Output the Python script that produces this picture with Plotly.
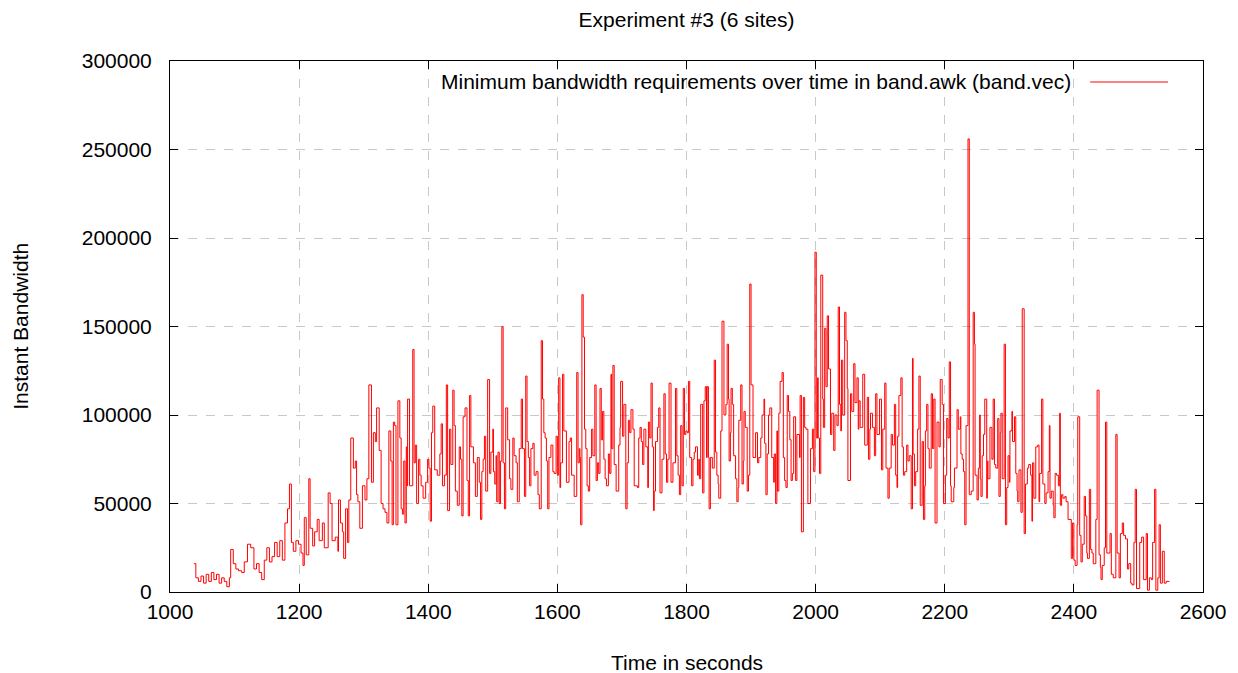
import plotly.graph_objects as go

# Times (s) at which the step value changes
time_s = [
    1037,1040,1044,1048,1052,1056,1060,1064,1068,1072,
    1076,1080,1084,1088,1092,1094,1098,1102,1106,1111,
    1115,1120,1125,1130,1134,1138,1142,1146,1150,1154,
    1158,1162,1166,1170,1174,1178,1182,1185,1188,1191,
    1195,1199,1203,1206,1208,1211,1215,1217,1221,1224,
    1228,1231,1236,1239,1245,1248,1251,1256,1260,1261,
    1264,1267,1269,1272,1275,1277,1280,1284,1287,1289,
    1291,1294,1298,1302,1305,1308,1312,1315,1318,1320,
    1324,1327,1330,1333,1336,1339,1342,1344,1346,1348,
    1350,1353,1356,1358,1360,1362,1364,1366,1367,1368,
    1371,1376,1378,1380,1382,1385,1387,1389,1392,1396,
    1399,1401,1403,1405,1407,1410,1414,1418,1420,1422,
    1425,1428,1430,1433,1435,1438,1440,1442,1445,1448,
    1450,1452,1454,1457,1460,1462,1464,1466,1470,1473,
    1476,1479,1481,1483,1485,1487,1489,1492,1495,1497,
    1500,1501,1503,1505,1506,1508,1510,1512,1514,1516,
    1518,1520,1523,1526,1528,1531,1533,1536,1538,1541,
    1544,1546,1549,1551,1553,1555,1557,1559,1562,1564,
    1567,1570,1572,1575,1577,1579,1581,1583,1585,1587,
    1590,1593,1595,1598,1600,1602,1604,1605,1608,1610,
    1614,1618,1620,1622,1626,1630,1632,1634,1635,1636,
    1638,1640,1642,1644,1646,1648,1650,1653,1655,1658,
    1660,1662,1664,1666,1668,1670,1672,1674,1676,1679,
    1681,1683,1684,1686,1688,1691,1695,1697,1698,1701,
    1703,1706,1708,1710,1712,1714,1717,1719,1724,1726,
    1728,1730,1732,1734,1737,1740,1741,1743,1745,1747,
    1749,1750,1752,1755,1757,1759,1762,1765,1767,1769,
    1771,1773,1776,1779,1783,1785,1787,1789,1791,1793,
    1795,1797,1799,1801,1803,1805,1808,1810,1812,1814,
    1817,1819,1820,1822,1825,1827,1829,1831,1832,1834,
    1835,1837,1840,1843,1845,1847,1849,1850,1853,1855,
    1858,1861,1863,1865,1866,1868,1869,1871,1873,1876,
    1878,1880,1881,1884,1886,1888,1889,1891,1894,1896,
    1898,1900,1903,1907,1910,1912,1915,1917,1920,1921,
    1923,1925,1927,1929,1932,1935,1936,1938,1940,1941,
    1943,1945,1948,1950,1952,1954,1956,1958,1960,1962,
    1964,1966,1969,1971,1975,1976,1978,1981,1983,1985,
    1988,1992,1995,1997,1999,2001,2003,2004,2006,2008,
    2011,2012,2014,2016,2018,2020,2023,2025,2028,2030,
    2033,2035,2037,2039,2040,2042,2045,2047,2049,2050,
    2054,2056,2059,2061,2064,2066,2067,2069,2073,2076,
    2080,2082,2084,2085,2088,2091,2093,2095,2099,2102,
    2104,2107,2109,2112,2114,2117,2119,2122,2124,2126,
    2127,2129,2132,2134,2136,2138,2141,2143,2145,2148,
    2150,2151,2153,2155,2158,2160,2162,2165,2167,2169,
    2170,2172,2174,2176,2179,2181,2183,2185,2188,2191,
    2193,2196,2198,2201,2203,2205,2207,2209,2210,2214,
    2215,2219,2221,2224,2225,2227,2229,2231,2233,2236,
    2238,2241,2244,2246,2247,2250,2252,2254,2255,2256,
    2258,2260,2262,2265,2266,2267,2270,2273,2275,2277,
    2279,2282,2284,2286,2287,2289,2292,2294,2296,2298,
    2300,2301,2304,2305,2308,2310,2312,2313,2315,2318,
    2320,2323,2325,2328,2330,2333,2335,2336,2338,2341,
    2344,2346,2347,2350,2352,2355,2357,2360,2362,2363,
    2365,2368,2369,2371,2373,2376,2378,2379,2381,2383,
    2386,2388,2391,2396,2398,2400,2402,2405,2406,2409,
    2411,2413,2416,2418,2420,2421,2424,2426,2428,2430,
    2434,2436,2439,2441,2442,2444,2447,2449,2451,2456,
    2458,2461,2465,2467,2470,2472,2475,2477,2480,2483,
    2485,2488,2490,2493,2495,2497,2502,2505,2508,2512,
    2514,2517,2520,2522,2525,2527,2530,2532,2534,2537,
    2540,2543,2548,
]

# Instant bandwidth in thousands
bandwidth_k = [
    16,8,6,9,5,10,6,11,7,10,
    5,8,6,3,8,24,16,13,12,11,
    17,27,25,13,16,11,7,18,25,17,
    20,28,20,29,18,39,47,61,28,23,
    29,27,22,15,42,21,64,36,26,34,
    41,29,39,25,56,50,29,31,23,52,
    39,34,19,47,28,52,87,70,74,55,
    51,36,60,52,64,117,62,90,85,104,
    80,50,47,45,39,91,74,38,96,94,
    38,108,87,47,44,74,39,82,60,109,
    60,137,73,83,50,75,66,60,53,62,
    75,70,40,90,105,69,66,78,95,60,
    66,117,46,92,72,114,94,57,49,82,
    75,43,99,104,63,43,111,82,73,54,
    76,62,41,68,75,88,57,120,67,79,
    92,68,61,77,51,79,50,74,150,73,
    47,104,86,64,58,87,77,73,51,81,
    109,81,54,122,85,76,60,81,84,66,
    68,55,47,142,109,90,87,74,47,76,
    83,68,67,88,66,121,59,73,123,91,
    62,85,87,66,54,124,73,81,76,38,
    168,144,92,81,60,57,76,92,77,117,
    63,73,67,115,86,102,75,64,60,78,
    67,123,81,128,72,57,83,93,119,88,
    106,47,73,97,90,103,92,60,59,87,
    93,85,72,92,82,59,96,87,118,82,
    46,57,85,93,104,56,75,112,78,62,
    75,118,62,73,115,77,66,55,94,60,
    115,89,91,90,119,76,60,75,79,82,
    66,75,64,106,56,108,116,76,116,76,
    47,76,70,131,79,66,61,53,91,153,
    100,106,140,109,74,90,115,106,77,64,
    51,59,97,117,61,74,102,93,57,66,
    174,117,76,90,73,76,87,100,109,84,
    55,78,100,104,76,62,78,50,91,57,
    101,119,124,76,63,59,111,102,86,63,
    67,99,63,89,76,111,34,110,93,92,
    50,81,92,68,192,87,121,87,67,179,
    109,93,149,116,156,126,89,101,80,100,
    94,161,106,91,131,100,158,142,115,63,
    112,102,129,107,121,92,108,93,123,83,
    110,75,92,101,93,77,112,89,109,69,
    92,118,70,53,70,89,83,106,66,59,
    88,111,121,82,66,68,83,74,77,47,
    132,78,60,68,92,122,49,85,41,60,
    91,106,81,70,112,81,109,39,96,82,
    120,106,50,66,98,87,130,60,51,59,
    70,103,92,99,78,75,68,38,94,256,
    55,57,158,140,66,52,70,100,64,54,
    77,89,109,53,74,64,93,75,109,72,
    70,98,54,90,101,64,140,38,59,77,
    62,91,102,85,99,67,57,51,69,45,
    160,33,61,70,72,66,40,73,53,82,
    83,51,67,109,61,50,56,68,94,53,
    57,49,42,67,66,60,101,49,55,53,
    54,51,41,19,39,18,15,38,99,32,
    17,27,54,43,22,19,58,24,22,16,
    41,114,21,14,7,15,25,96,22,33,
    10,8,89,22,8,33,39,32,30,13,
    16,5,4,28,58,2,28,31,7,33,
    1,8,7,28,58,1,8,38,5,23,
    5,6,6,
]

x_ticks = [1000, 1200, 1400, 1600, 1800, 2000, 2200, 2400, 2600]
y_ticks = [0, 50000, 100000, 150000, 200000, 250000, 300000]

title_text = "Experiment #3 (6 sites)"
x_title = "Time in seconds"
y_title = "Instant Bandwidth"
series_name = "Minimum bandwidth requirements over time in band.awk (band.vec)"

n = min(len(time_s), len(bandwidth_k))
bandwidth = [v * 1000 for v in bandwidth_k[:n]]

FONT = "Liberation Sans, Arial, Helvetica, sans-serif"
FS = 21
RED = "#ff0000"

fig = go.Figure()
fig.add_trace(go.Scatter(
    x=time_s[:n], y=bandwidth, mode="lines", name=series_name,
    line=dict(color=RED, width=1, shape="hv"), showlegend=False,
))

axis_common = dict(
    showline=True, linecolor="black", linewidth=1, mirror="allticks",
    ticks="inside", ticklen=8, tickcolor="black", tickwidth=1,
    showgrid=True, gridcolor="#c8c8c8", griddash="dash", gridwidth=1,
    zeroline=False, tickfont=dict(family=FONT, size=FS, color="black"),
)

fig.update_layout(
    width=1238, height=673,
    margin=dict(l=170, r=33, t=61, b=81),
    paper_bgcolor="white", plot_bgcolor="white",
    font=dict(family=FONT, size=FS, color="black"),
    title=dict(text=title_text, x=0.5, xref="paper", xanchor="center",
               y=1 - 20 / 673, yref="container", yanchor="middle",
               font=dict(family=FONT, size=FS, color="black")),
    xaxis=dict(range=[1000, 2600], tickvals=x_ticks, ticktext=[str(v) for v in x_ticks],
               ticklabelstandoff=1, **axis_common),
    yaxis=dict(range=[0, 300000], tickvals=y_ticks, ticktext=[str(v) for v in y_ticks],
               ticklabelstandoff=13, **axis_common),
    showlegend=False,
)

# axis titles
fig.add_annotation(text=x_title, xref="paper", yref="paper", x=0.5, y=(592 - 662) / 531,
                   xanchor="center", yanchor="middle", showarrow=False,
                   font=dict(family=FONT, size=FS, color="black"))
fig.add_annotation(text=y_title, xref="paper", yref="paper", x=(20 - 170) / 1035, y=0.5,
                   xanchor="center", yanchor="middle", showarrow=False, textangle=-90,
                   font=dict(family=FONT, size=FS, color="black"))

# gnuplot-style key: text then line sample
fig.add_annotation(text=series_name, xref="paper", yref="paper",
                   x=(1075 - 170) / 1035, y=(592 - 82) / 531,
                   xanchor="right", yanchor="middle", showarrow=False,
                   font=dict(family=FONT, size=FS, color="black"))
fig.add_shape(type="line", xref="paper", yref="paper",
              x0=(1092 - 170) / 1035, x1=(1170 - 170) / 1035,
              y0=(592 - 82) / 531, y1=(592 - 82) / 531,
              line=dict(color=RED, width=1))

fig.write_html("out.html", config={"displayModeBar": False},
               post_script="document.body.style.margin='0';")
